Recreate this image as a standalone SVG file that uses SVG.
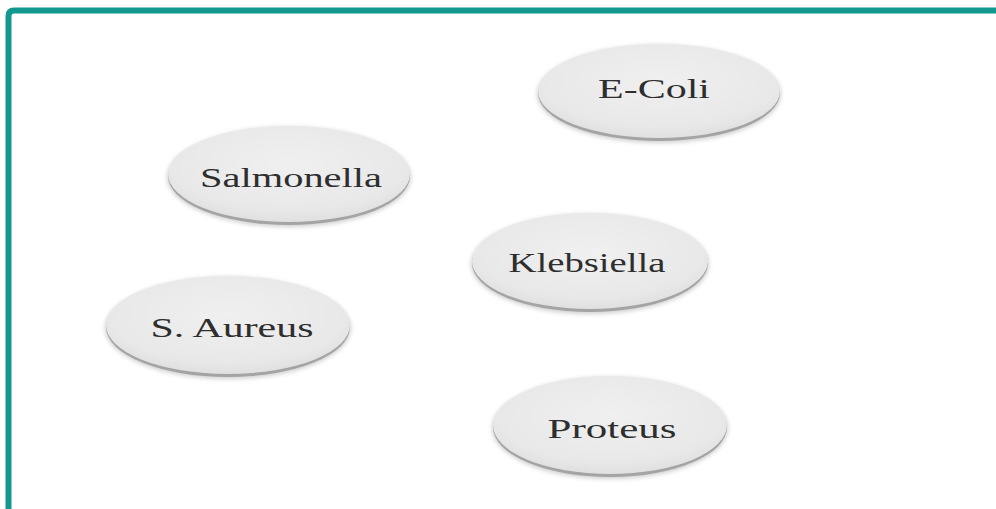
<svg xmlns="http://www.w3.org/2000/svg" width="996" height="509" viewBox="0 0 996 509">
<defs>
<radialGradient id="disc" cx="0.5" cy="0.4" r="0.65">
<stop offset="0" stop-color="#f0f0f0"/>
<stop offset="0.75" stop-color="#e8e8e8"/>
<stop offset="1" stop-color="#dcdcdc"/>
</radialGradient>
<filter id="blur" x="-10%" y="-10%" width="120%" height="130%"><feGaussianBlur stdDeviation="2"/></filter>
</defs>
<style>
.shadow{fill:#d0d0d0;filter:url(#blur)}
.rim{fill:#a4a4a4}
.face{fill:url(#disc)}
.lbl{font-family:"Liberation Serif","Times New Roman",serif;font-size:27px;fill:#2e2e2e;text-anchor:middle}
</style>
<rect x="0" y="0" width="996" height="509" fill="#fff"/>
<path d="M8.5 509 V16 Q8.5 10.5 14 10.5 H996" fill="none" stroke="#12988f" stroke-width="6"/>
<g id="connectors"/>
<g id="ecoli">
<ellipse class="shadow" cx="659" cy="94" rx="122" ry="49"/>
<ellipse class="rim" cx="659" cy="93" rx="121" ry="48"/>
<ellipse class="face" cx="659" cy="91" rx="121" ry="47"/>
<text class="lbl" x="654" y="98" textLength="112" lengthAdjust="spacingAndGlyphs">E-Coli</text>
</g>
<g id="salmonella">
<ellipse class="shadow" cx="289" cy="177" rx="122" ry="50"/>
<ellipse class="rim" cx="289" cy="176" rx="121" ry="49"/>
<ellipse class="face" cx="289" cy="174" rx="121" ry="48"/>
<text class="lbl" x="291" y="187" textLength="182" lengthAdjust="spacingAndGlyphs">Salmonella</text>
</g>
<g id="klebsiella">
<ellipse class="shadow" cx="590" cy="264" rx="119" ry="50"/>
<ellipse class="rim" cx="590" cy="263" rx="118" ry="49"/>
<ellipse class="face" cx="590" cy="261" rx="118" ry="48"/>
<text class="lbl" x="587" y="272" textLength="157" lengthAdjust="spacingAndGlyphs">Klebsiella</text>
</g>
<g id="saureus">
<ellipse class="shadow" cx="228" cy="328" rx="123" ry="51"/>
<ellipse class="rim" cx="228" cy="327" rx="122" ry="50"/>
<ellipse class="face" cx="228" cy="325" rx="122" ry="49"/>
<text class="lbl" x="232" y="337" textLength="163" lengthAdjust="spacingAndGlyphs">S. Aureus</text>
</g>
<g id="proteus">
<ellipse class="shadow" cx="610" cy="428" rx="118" ry="51"/>
<ellipse class="rim" cx="610" cy="427" rx="117" ry="50"/>
<ellipse class="face" cx="610" cy="425" rx="117" ry="49"/>
<text class="lbl" x="612" y="438" textLength="129" lengthAdjust="spacingAndGlyphs">Proteus</text>
</g>
</svg>
